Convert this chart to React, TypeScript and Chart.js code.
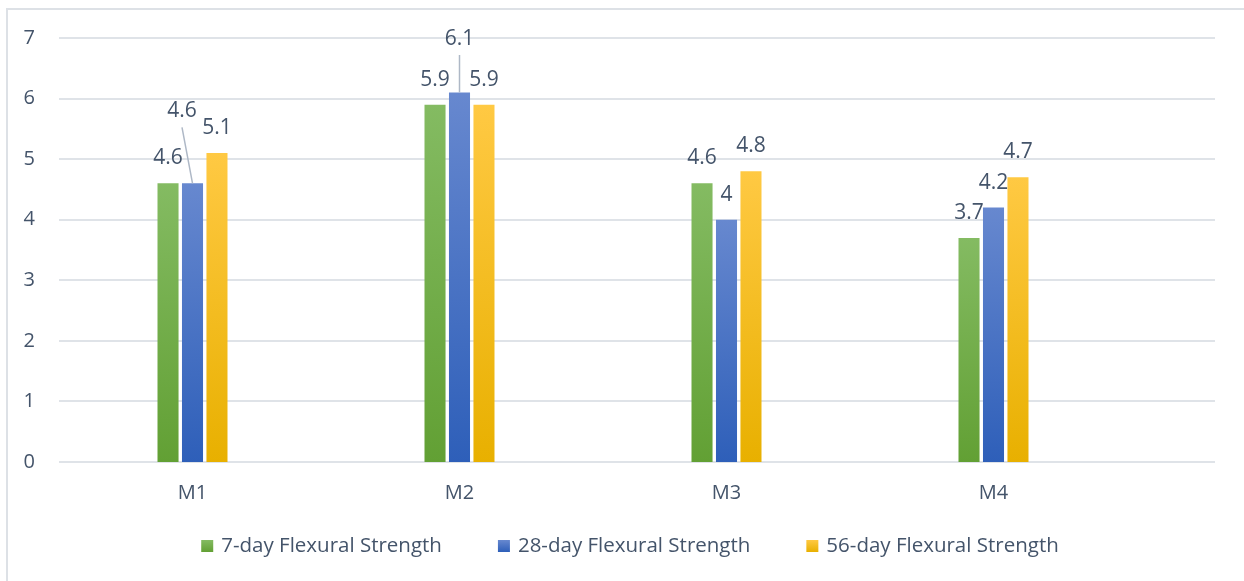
import React, { useEffect, useRef } from "react";
import { Chart, registerables } from "chart.js";

Chart.register(...registerables);

// ---- data ----
const categories = ["M1", "M2", "M3", "M4"];
const seriesNames = [
  "7-day Flexural Strength",
  "28-day Flexural Strength",
  "56-day Flexural Strength",
];
const day7 = [4.6, 5.9, 4.6, 3.7];
const day28 = [4.6, 6.1, 4, 4.2];
const day56 = [5.1, 5.9, 4.8, 4.7];
const yTicks = [0, 1, 2, 3, 4, 5, 6, 7];

// ---- styling ----
const palette = [
  { top: "#84bb62", bottom: "#62a034" },
  { top: "#6788cf", bottom: "#2e5fb9" },
  { top: "#ffc943", bottom: "#e8b000" },
];
const TEXT = "#44546a";
const GRID = "#dfe3e8";
const FONT = "'Open Sans', 'Noto Sans', sans-serif";

// value labels that sit further up, joined to their bar by a leader line
const movedLabels = [
  { ds: 1, i: 0, dx: -10.5, dy: -47 },
  { ds: 1, i: 1, dx: 0, dy: -28.5 },
];

const W = 1244;
const H = 581;

function barGradient(k: number) {
  return (ctx: any) => {
    const chart = ctx.chart;
    const y = chart.scales && chart.scales.y;
    if (!chart.chartArea || !y || ctx.type !== "data") return palette[k].bottom;
    const top = y.getPixelForValue(ctx.raw);
    const bottom = y.getPixelForValue(0);
    const g = chart.ctx.createLinearGradient(0, top, 0, bottom);
    g.addColorStop(0, palette[k].top);
    g.addColorStop(1, palette[k].bottom);
    return g;
  };
}

const framePlugin = {
  id: "frame",
  beforeDraw(chart: any) {
    const c = chart.ctx;
    c.save();
    c.fillStyle = "#ffffff";
    c.fillRect(0, 0, chart.width, chart.height);
    c.strokeStyle = "#dde1e6";
    c.lineWidth = 2;
    c.beginPath();
    c.moveTo(7, chart.height);
    c.lineTo(7, 9);
    c.lineTo(chart.width, 9);
    c.stroke();
    c.restore();
  },
  beforeDatasetsDraw(chart: any) {
    const c = chart.ctx;
    const { chartArea, scales } = chart;
    c.save();
    c.strokeStyle = GRID;
    c.lineWidth = 2;
    const left = chartArea.left;
    const right = chartArea.right + 88;
    yTicks.forEach((v) => {
      const y = Math.round(scales.y.getPixelForValue(v));
      c.beginPath();
      c.moveTo(left, y);
      c.lineTo(right, y);
      c.stroke();
    });
    c.restore();
  },
};

const valueLabelPlugin = {
  id: "valueLabels",
  afterDatasetsDraw(chart: any) {
    const c = chart.ctx;
    c.save();
    c.font = `21px ${FONT}`;
    c.fillStyle = TEXT;
    c.textAlign = "center";
    c.textBaseline = "middle";
    chart.data.datasets.forEach((ds: any, di: number) => {
      const meta = chart.getDatasetMeta(di);
      meta.data.forEach((bar: any, i: number) => {
        const v = ds.data[i];
        const moved = movedLabels.find((m) => m.ds === di && m.i === i);
        const lx = bar.x + (moved ? moved.dx : 0);
        const ly = bar.y - 25 + (moved ? moved.dy : 0);
        if (moved) {
          c.save();
          c.strokeStyle = "#aeb8c6";
          c.lineWidth = 1.5;
          c.beginPath();
          c.moveTo(lx, ly + 16);
          c.lineTo(bar.x, bar.y);
          c.stroke();
          c.restore();
        }
        c.fillText(String(v), lx, ly);
      });
    });
    c.restore();
  },
};

const legendPlugin = {
  id: "customLegend",
  afterDraw(chart: any) {
    const c = chart.ctx;
    c.save();
    c.font = `20.5px ${FONT}`;
    c.textBaseline = "middle";
    c.textAlign = "left";
    const box = 12;
    const boxGap = 8;
    const itemGap = 56;
    const widths = seriesNames.map((n) => c.measureText(n).width);
    const total =
      widths.reduce((a, w) => a + box + boxGap + w, 0) + itemGap * (widths.length - 1);
    let x = 630 - total / 2;
    const cy = 546;
    seriesNames.forEach((name, k) => {
      const g = c.createLinearGradient(0, cy - box / 2, 0, cy + box / 2);
      g.addColorStop(0, palette[k].top);
      g.addColorStop(1, palette[k].bottom);
      c.fillStyle = g;
      c.fillRect(x, cy - box / 2, box, box);
      c.fillStyle = TEXT;
      c.fillText(name, x + box + boxGap, cy);
      x += box + boxGap + widths[k] + itemGap;
    });
    c.restore();
  },
};

export default function App() {
  const ref = useRef<HTMLCanvasElement | null>(null);

  useEffect(() => {
    if (!ref.current) return;
    const seriesValues = [day7, day28, day56];
    const chart = new Chart(ref.current, {
      type: "bar",
      data: {
        labels: categories,
        datasets: seriesValues.map((values, k) => ({
          label: seriesNames[k],
          data: values,
          backgroundColor: barGradient(k),
          borderWidth: 0,
          categoryPercentage: 0.275,
          barPercentage: 0.86,
        })),
      },
      options: {
        responsive: false,
        animation: false,
        layout: { padding: { left: 0, right: 117, top: 38, bottom: 0 } },
        plugins: {
          legend: { display: false },
          tooltip: { enabled: false },
        },
        scales: {
          x: {
            grid: { display: false, drawTicks: false },
            border: { display: false },
            ticks: {
              color: TEXT,
              font: { family: FONT, size: 20 },
              padding: 19,
            },
            afterFit(scale: any) {
              scale.height = 119;
            },
          },
          y: {
            min: 0,
            max: 7,
            grid: { display: false, drawTicks: false },
            border: { display: false },
            ticks: {
              stepSize: 1,
              color: TEXT,
              font: { family: FONT, size: 20 },
              padding: 24,
            },
            afterFit(scale: any) {
              scale.width = 59;
            },
          },
        },
      },
      plugins: [framePlugin, valueLabelPlugin, legendPlugin],
    });
    return () => chart.destroy();
  }, []);

  return (
    <div style={{ position: "absolute", left: 0, top: 0, width: W, height: H }}>
      <canvas ref={ref} width={W} height={H} style={{ display: "block" }} />
    </div>
  );
}
